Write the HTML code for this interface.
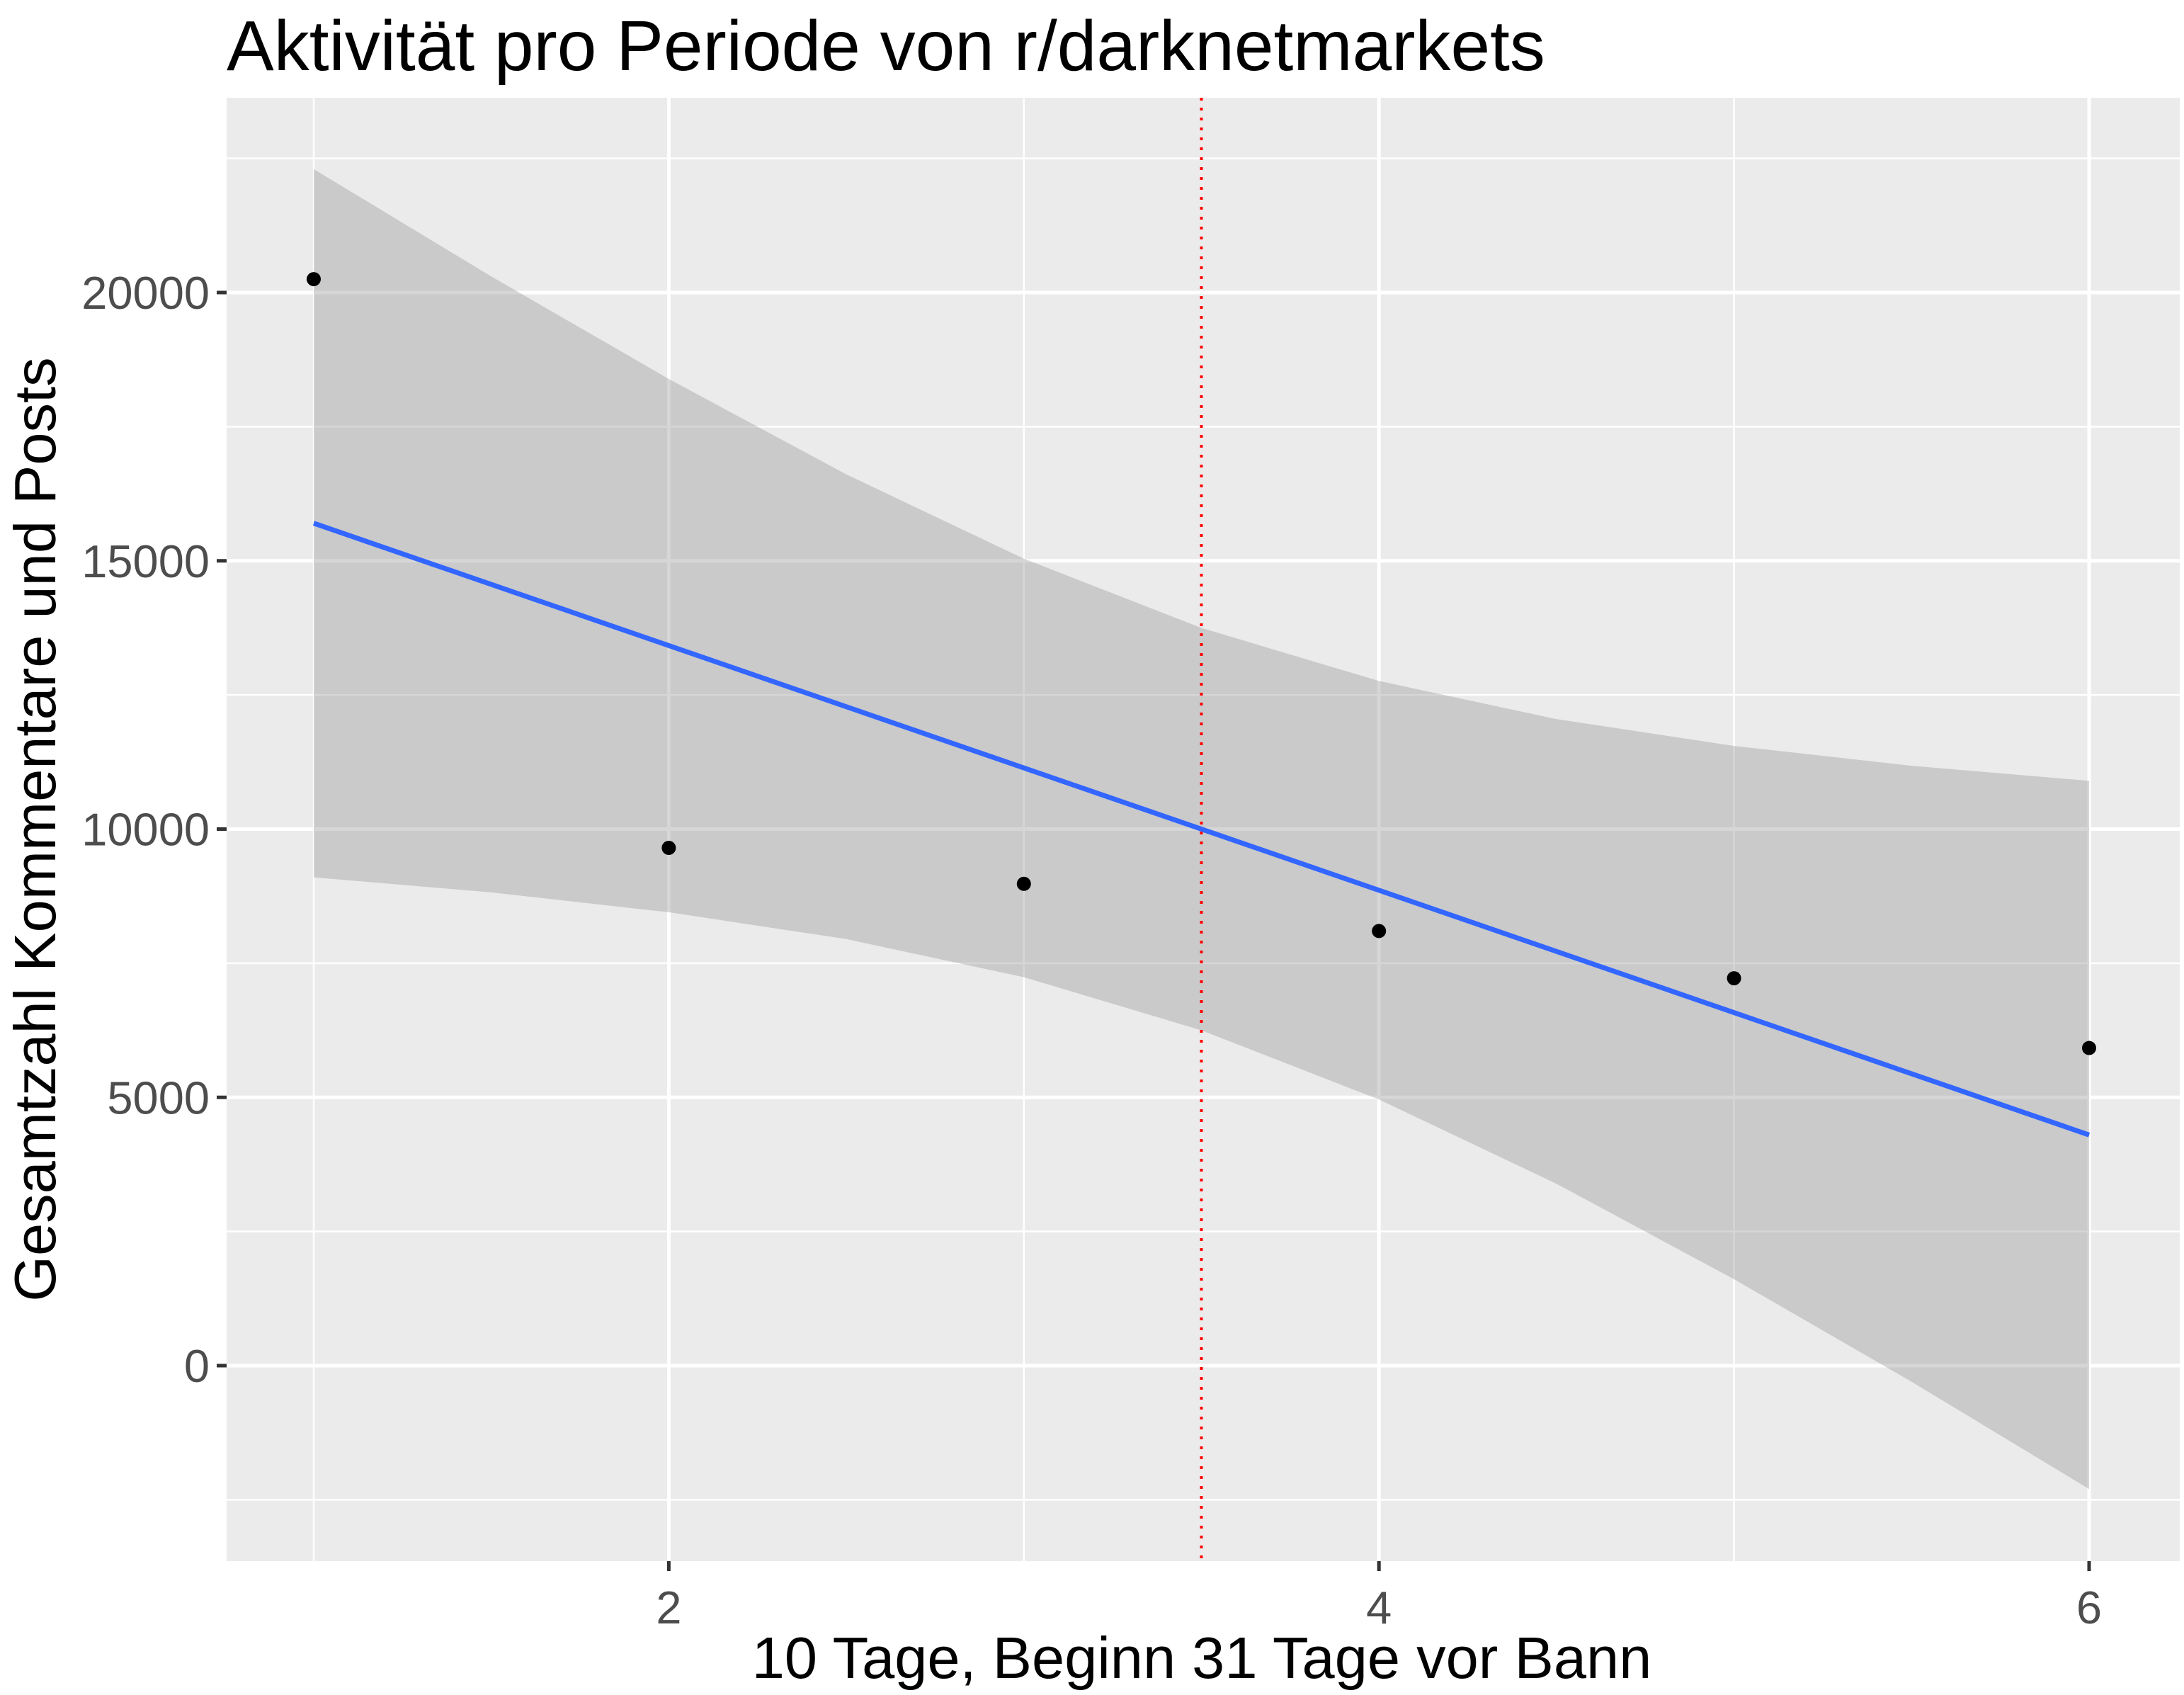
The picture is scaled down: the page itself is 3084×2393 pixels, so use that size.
<!DOCTYPE html>
<html><head><meta charset="utf-8"><style>
html,body{margin:0;padding:0;background:#fff;}
svg{display:block;font-family:"Liberation Sans",Arial,sans-serif;}
</style></head><body>
<svg id="chart" width="3084" height="2393" viewBox="0 0 3084 2393" xmlns="http://www.w3.org/2000/svg">
<rect x="0" y="0" width="3084" height="2393" fill="#fff"/>
<text x="320" y="99" font-size="100" fill="#000">Aktivität pro Periode von r/darknetmarkets</text>
<rect x="320" y="138" width="2758" height="2066" fill="#EBEBEB"/>
<g id="grid"></g>
<g id="band"></g>
<g id="marks"></g>
<g id="axes"></g>
<text x="1697" y="2369" font-size="83" text-anchor="middle" fill="#000">10 Tage, Beginn 31 Tage vor Bann</text>
<text transform="translate(78,1171) rotate(-90)" font-size="83" text-anchor="middle" fill="#000">Gesamtzahl Kommentare und Posts</text>
</svg>
<script>
const xValues = [1, 2, 3, 4, 5, 6];
const yValues = [20250, 9650, 8980, 8100, 7220, 5920];
const fitX = [1, 6];
const fitY = [15700, 4300];
const bandX = [1, 1.5, 2, 2.5, 3, 3.5, 4, 4.5, 5, 5.5, 6];
const bandUpper = [22300, 20300, 18390, 16610, 15040, 13750, 12760, 12050, 11550, 11180, 10900];
const bandLower = [9100, 8820, 8450, 7950, 7240, 6250, 4960, 3390, 1610, -300, -2300];
const xBreaks = [2, 4, 6];
const xMinor = [1, 3, 5];
const yBreaks = [0, 5000, 10000, 15000, 20000];
const yMinor = [-2500, 2500, 7500, 12500, 17500, 22500];
const vLineX = [3.5];

const PL = 320, PR = 3078, PT = 138, PB = 2204;
const X0 = 443, XU = 501.4, Y0 = 1928, YU = 378.75 / 5000;
const sx = v => X0 + (v - 1) * XU;
const sy = v => Y0 - v * YU;
const NS = "http://www.w3.org/2000/svg";
function mk(tag, parent, attrs) {
  const e = document.createElementNS(NS, tag);
  for (const k in attrs) e.setAttribute(k, attrs[k]);
  parent.appendChild(e);
  return e;
}
const grid = document.getElementById('grid');
const band = document.getElementById('band');
const marks = document.getElementById('marks');
const axes = document.getElementById('axes');

yMinor.forEach(v => {
  const l = mk('line', grid, {x1: PL, x2: PR, y1: sy(v), y2: sy(v), stroke: '#fff', 'stroke-width': 2.5});
  
  
});
xMinor.forEach(v => {
  const l = mk('line', grid, {x1: sx(v), x2: sx(v), y1: PT, y2: PB, stroke: '#fff', 'stroke-width': 2.5});
  
  
});
yBreaks.forEach(v => {
  const l = mk('line', grid, {x1: PL, x2: PR, y1: sy(v), y2: sy(v), stroke: '#fff', 'stroke-width': 5});
  
  
  const t = mk('line', axes, {x1: PL - 14, x2: PL, y1: sy(v), y2: sy(v), stroke: '#333', 'stroke-width': 5});
  
  
  const tx = mk('text', axes, {x: PL - 24, y: sy(v) + 23, 'font-size': 65, 'text-anchor': 'end', fill: '#4D4D4D'});
  tx.textContent = v;
  
  
});
xBreaks.forEach(v => {
  const l = mk('line', grid, {x1: sx(v), x2: sx(v), y1: PT, y2: PB, stroke: '#fff', 'stroke-width': 5});
  
  
  const t = mk('line', axes, {x1: sx(v), x2: sx(v), y1: PB, y2: PB + 14, stroke: '#333', 'stroke-width': 5});
  
  
  const tx = mk('text', axes, {x: sx(v), y: PB + 88, 'font-size': 65, 'text-anchor': 'middle', fill: '#4D4D4D'});
  tx.textContent = v;
  
  
});

let d = '';
bandX.forEach((x, i) => { d += (i ? 'L' : 'M') + sx(x) + ',' + sy(bandUpper[i]); });
for (let i = bandX.length - 1; i >= 0; i--) d += 'L' + sx(bandX[i]) + ',' + sy(bandLower[i]);
d += 'Z';
const bp = mk('path', band, {d: d, fill: '#999999', 'fill-opacity': 0.4});



vLineX.forEach(v => {
  const l = mk('line', marks, {x1: sx(v), x2: sx(v), y1: PT, y2: PB, stroke: '#FF0000', 'stroke-width': 4, 'stroke-dasharray': '4 10'});
  
  
});

const fl = mk('line', marks, {x1: sx(fitX[0]), y1: sy(fitY[0]), x2: sx(fitX[1]), y2: sy(fitY[1]), stroke: '#3366FF', 'stroke-width': 7});



xValues.forEach((x, i) => {
  const c = mk('circle', marks, {cx: sx(x), cy: sy(yValues[i]), r: 10, fill: '#000'});
  
  
});
</script>
</body></html>
